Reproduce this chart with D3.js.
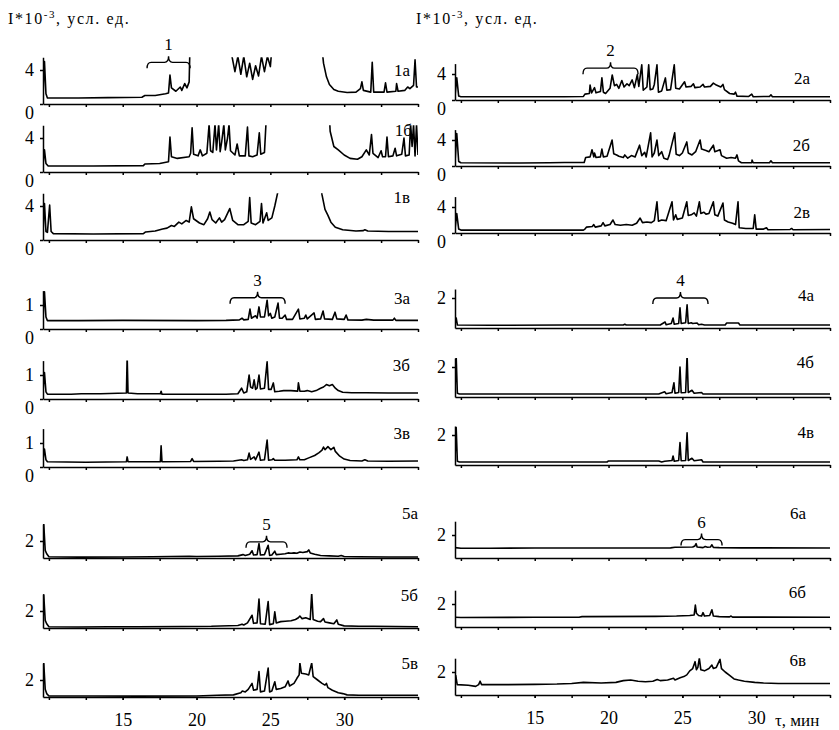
<!DOCTYPE html>
<html>
<head>
<meta charset="utf-8">
<script src="https://cdnjs.cloudflare.com/ajax/libs/d3/7.8.5/d3.min.js"></script>
<style>
  body { margin: 0; background: #fff; }
  text { font-family: "Liberation Serif", "Times New Roman", "DejaVu Serif", serif; fill: #000; }
  .trace { fill: none; stroke: #000; stroke-width: 1.6; stroke-linejoin: round; }
  .axis path, .axis line { stroke: #000; stroke-width: 1.5; }
  .axis text { font-size: 18px; }
  .lab { font-size: 17px; }
  .brace { fill: none; stroke: #000; stroke-width: 1.4; }
</style>
</head>
<body>
<script>
// time axis, minutes
var tDomain = [9.6, 35];
var xTicks = [15, 20, 25, 30];

// chromatograms: [time, I*10^-3]
var tr1a = [[9.6,0.9],[9.7,5.0],[9.8,1.2],[9.9,0.7],[12,0.7],[14,0.75],[16.3,0.8],[16.5,1.0],[17.2,1.0],[17.9,1.2],[18.1,1.3],[18.2,3.4],[18.3,1.9],[18.6,1.5],[18.9,2.0],[19.0,1.6],[19.2,2.4],[19.35,1.9],[19.5,2.6],[19.55,6.5],[22.3,6.5],
  [22.4,5.6],[22.6,3.8],[22.8,5.6],[23.0,3.5],[23.2,5.6],[23.4,3.2],[23.6,4.8],[23.8,2.9],[24.0,4.5],[24.2,3.3],[24.4,5.6],[24.6,3.8],[24.8,5.6],[25.0,4.4],[25.1,6.5],[28.5,6.5],
  [28.6,4.8],[28.8,3.2],[29.0,2.3],[29.3,1.7],[29.6,1.5],[30.2,1.35],[30.8,1.4],[31.1,1.8],[31.2,2.6],[31.3,1.6],[31.8,1.4],[31.9,4.9],[32.0,1.4],[32.7,1.4],[32.8,2.5],[32.9,1.4],[33.5,1.5],[33.55,2.4],[33.65,1.5],[34.1,1.6],[34.3,2.0],[34.45,1.8],[34.7,2.2],[34.8,5.2],[34.9,2.0],[35,2.0]];
var tr1b = [[9.6,0.8],[9.7,2.6],[9.8,1.0],[9.95,0.7],[13,0.7],[16.4,0.75],[16.5,0.95],[17.5,1.0],[18.1,1.2],[18.2,4.1],[18.3,1.8],[18.7,1.6],[19.5,1.8],[19.6,2.2],[19.7,5.2],[19.8,2.1],[20.1,1.9],[20.25,2.6],[20.4,1.9],[20.7,2.2],[20.85,5.6],[20.95,2.5],[21.1,2.3],[21.25,5.6],[21.35,2.6],[21.5,5.6],[21.6,2.4],[21.7,3.5],[21.85,5.6],[21.95,2.6],[22.1,4.0],[22.2,5.6],[22.3,2.5],[22.6,2.0],[22.75,3.3],[22.9,1.9],[23.3,1.9],[23.45,5.3],[23.55,1.9],[23.8,1.8],[24.1,2.0],[24.25,4.6],[24.35,2.1],[24.6,2.3],[24.7,5.6],[24.8,6.5],[29.0,6.5],
  [29.05,4.8],[29.3,3.0],[29.6,2.6],[30.0,2.0],[30.4,1.6],[30.9,1.5],[31.2,1.8],[31.5,2.6],[31.7,2.0],[31.85,4.4],[31.95,2.2],[32.3,1.7],[32.5,2.5],[32.6,1.8],[32.8,1.8],[32.9,4.1],[33.0,1.8],[33.3,1.9],[33.45,2.8],[33.55,1.9],[33.9,2.1],[34.05,4.0],[34.15,1.9],[34.4,2.0],[34.5,5.6],[34.6,3.0],[34.7,5.6],[34.8,1.9],[34.9,5.6],[35,2.0]];
var tr1v = [[9.6,0.9],[9.7,4.3],[9.8,1.0],[9.9,0.9],[10.05,4.1],[10.15,1.0],[10.3,0.75],[13,0.7],[16.4,0.75],[16.55,0.95],[17.2,1.05],[17.7,1.3],[18.0,1.4],[18.3,1.7],[18.5,1.6],[18.8,2.1],[19.0,1.9],[19.3,2.3],[19.5,2.1],[19.65,3.9],[19.8,2.5],[20.2,2.0],[20.5,1.8],[20.75,2.5],[20.9,3.3],[21.05,2.4],[21.3,2.0],[21.55,2.6],[21.7,2.1],[21.9,2.4],[22.25,3.7],[22.45,2.3],[22.8,1.8],[23.2,1.8],[23.5,2.2],[23.6,5.0],[23.7,2.0],[24.0,1.8],[24.3,2.2],[24.4,4.3],[24.5,2.0],[24.75,3.2],[24.85,2.3],[25.1,2.6],[25.3,4.0],[25.5,5.6],[25.6,6.5],[28.4,6.5],
  [28.5,5.3],[28.7,3.6],[28.9,2.9],[29.1,2.1],[29.4,1.5],[29.9,1.2],[30.8,1.05],[31.3,1.1],[31.4,1.2],[31.6,1.05],[33,1.0],[35,1.0]];

var tr2a = [[9.6,0.6],[9.72,3.4],[9.85,0.6],[10,0.5],[14,0.5],[17,0.5],[18.3,0.55],[18.4,0.9],[18.7,1.0],[18.75,2.3],[18.85,1.1],[19.05,1.9],[19.15,1.1],[19.45,1.3],[19.55,3.4],[19.65,1.2],[19.8,1.0],[20.1,1.8],[20.25,3.85],[20.4,2.2],[20.55,2.4],[20.7,1.8],[20.9,3.0],[21.05,2.0],[21.25,2.5],[21.4,2.2],[21.6,3.1],[21.75,1.9],[21.95,3.9],[22.05,2.1],[22.25,5.4],[22.35,1.5],[22.6,2.0],[22.72,5.4],[22.82,1.6],[23.0,1.7],[23.1,2.4],[23.28,5.4],[23.38,1.2],[23.6,1.4],[23.85,3.4],[23.95,1.5],[24.2,1.6],[24.45,5.4],[24.55,1.8],[24.8,1.7],[25.15,2.8],[25.25,2.0],[25.6,2.1],[25.75,2.5],[25.85,1.9],[26.2,2.0],[26.4,2.4],[26.5,2.0],[26.9,2.1],[27.1,2.6],[27.3,2.3],[27.6,2.0],[27.75,2.4],[27.85,1.6],[28.2,1.0],[28.5,0.9],[28.6,1.2],[28.7,0.6],[29.5,0.55],[29.7,0.9],[29.8,0.5],[30.9,0.55],[31.0,0.8],[31.1,0.5],[35,0.5]];
var tr2b = [[9.6,0.6],[9.72,5.0],[9.85,0.7],[10,0.5],[14,0.45],[16,0.5],[17,0.55],[18.35,0.55],[18.45,1.3],[18.75,1.4],[18.88,2.5],[19.0,1.4],[19.05,2.0],[19.15,1.3],[19.45,1.4],[19.55,2.6],[19.65,1.4],[19.9,1.5],[20.24,4.0],[20.35,1.9],[20.55,1.7],[20.7,1.5],[21.0,1.3],[21.1,1.7],[21.3,1.2],[21.55,1.6],[21.8,1.4],[22.1,3.2],[22.25,1.6],[22.45,2.1],[22.55,1.4],[22.85,5.1],[22.95,1.4],[23.1,2.0],[23.28,4.0],[23.4,1.6],[23.6,2.2],[23.75,1.2],[24.0,1.0],[24.1,1.6],[24.48,5.1],[24.58,1.8],[24.8,1.6],[25.0,2.0],[25.3,3.7],[25.4,2.0],[25.65,1.7],[25.9,2.2],[26.2,4.0],[26.3,2.6],[26.6,2.4],[26.8,2.2],[27.1,3.2],[27.2,2.2],[27.55,2.5],[27.65,1.6],[28.0,1.2],[28.3,1.3],[28.6,1.2],[28.7,1.7],[28.8,0.8],[29.0,0.5],[29.7,0.5],[29.72,0.9],[29.8,0.5],[30.9,0.5],[31.0,0.8],[31.1,0.5],[35,0.5]];
var tr2v = [[9.6,0.6],[9.72,3.0],[9.85,0.6],[10,0.45],[14,0.45],[18.3,0.45],[18.4,0.6],[18.5,0.9],[18.9,1.0],[19.0,1.3],[19.1,0.9],[19.5,1.1],[19.63,1.6],[19.75,1.1],[20.1,1.3],[20.3,2.0],[20.45,1.3],[20.8,1.2],[21.2,1.3],[21.6,1.2],[21.9,1.5],[22.14,2.3],[22.3,1.6],[22.6,1.7],[22.9,1.6],[23.1,1.9],[23.28,4.8],[23.38,1.8],[23.6,2.0],[23.9,1.9],[24.3,4.8],[24.4,2.0],[24.55,2.8],[24.65,2.1],[25.0,2.3],[25.3,4.8],[25.4,2.7],[25.6,2.8],[25.8,3.1],[25.95,2.6],[26.15,4.8],[26.25,3.0],[26.45,3.2],[26.6,2.9],[26.8,3.0],[27.1,4.8],[27.2,2.8],[27.4,2.6],[27.75,4.6],[27.85,2.0],[28.1,1.7],[28.4,1.5],[28.6,1.3],[28.77,4.8],[28.85,0.8],[29.3,0.7],[29.8,0.7],[29.9,2.8],[30.0,0.6],[30.5,0.6],[30.7,0.8],[30.8,0.5],[32.3,0.55],[32.4,0.7],[32.5,0.5],[35,0.55]];

var tr3a = [[9.6,0.4],[9.7,1.55],[9.8,0.5],[9.9,0.35],[12,0.35],[15,0.36],[20,0.35],[22.0,0.36],[22.9,0.38],[23.08,0.45],[23.2,0.38],[23.5,0.4],[23.62,0.83],[23.72,0.45],[23.85,0.5],[24.0,0.55],[24.1,0.45],[24.23,0.92],[24.33,0.5],[24.6,0.5],[24.78,1.2],[24.88,0.55],[25.0,0.65],[25.1,0.45],[25.3,0.5],[25.52,1.08],[25.62,0.45],[25.8,0.45],[26.0,0.58],[26.1,0.4],[26.5,0.4],[26.9,0.83],[27.0,0.42],[27.3,0.45],[27.4,0.58],[27.5,0.42],[27.96,0.67],[28.05,0.4],[28.4,0.42],[28.57,0.75],[28.67,0.42],[29.2,0.4],[29.38,0.7],[29.5,0.42],[30.0,0.4],[30.13,0.58],[30.25,0.38],[31.2,0.37],[31.5,0.4],[32.0,0.37],[33.3,0.37],[33.4,0.45],[33.5,0.36],[35,0.36]];
var tr3b = [[9.6,0.3],[9.7,1.1],[9.8,0.3],[9.9,0.2],[11.5,0.2],[12.2,0.22],[13.5,0.22],[15.25,0.25],[15.3,1.8],[15.36,0.25],[16.0,0.22],[17.55,0.22],[17.6,0.32],[17.66,0.2],[19.0,0.2],[22.0,0.2],[22.8,0.22],[23.05,0.45],[23.2,0.25],[23.4,0.3],[23.56,1.0],[23.66,0.5],[23.8,0.45],[23.9,0.8],[24.0,0.4],[24.1,0.45],[24.23,1.0],[24.33,0.42],[24.6,0.45],[24.78,1.55],[24.88,0.4],[25.05,0.4],[25.2,0.67],[25.3,0.3],[25.6,0.32],[25.9,0.35],[26.4,0.35],[26.85,0.33],[26.9,0.67],[27.0,0.33],[27.3,0.32],[27.5,0.35],[27.8,0.3],[28.1,0.35],[28.4,0.45],[28.6,0.5],[28.8,0.6],[29.0,0.55],[29.2,0.6],[29.4,0.45],[29.6,0.35],[29.9,0.28],[30.5,0.26],[31.5,0.26],[33,0.25],[35,0.25]];
var tr3v = [[9.6,0.3],[9.7,0.75],[9.8,0.3],[9.9,0.22],[12.5,0.2],[15.25,0.22],[15.3,0.42],[15.36,0.22],[17.55,0.22],[17.6,0.88],[17.66,0.22],[19.6,0.23],[19.7,0.35],[19.8,0.23],[21.5,0.24],[22.5,0.25],[23.05,0.3],[23.2,0.27],[23.45,0.3],[23.56,0.58],[23.66,0.32],[23.9,0.42],[24.0,0.3],[24.23,0.62],[24.33,0.28],[24.6,0.3],[24.78,1.12],[24.88,0.28],[25.1,0.3],[25.2,0.35],[25.3,0.28],[26.0,0.28],[26.8,0.3],[26.9,0.42],[27.0,0.3],[27.3,0.3],[27.6,0.38],[28.0,0.48],[28.3,0.6],[28.5,0.7],[28.6,0.83],[28.7,0.72],[28.9,0.85],[29.1,0.72],[29.3,0.82],[29.4,0.65],[29.7,0.45],[30.0,0.33],[30.4,0.27],[31.2,0.25],[31.4,0.3],[31.6,0.25],[33,0.24],[35,0.25]];

var tr4a = [[9.6,0.25],[9.68,0.67],[9.76,0.2],[12,0.18],[17,0.2],[21.0,0.2],[21.1,0.25],[21.2,0.2],[23.5,0.2],[23.83,0.4],[23.9,0.22],[24.25,0.3],[24.37,0.67],[24.45,0.25],[24.75,0.3],[24.84,1.35],[24.92,0.3],[25.22,0.35],[25.32,1.55],[25.4,0.3],[25.6,0.35],[25.7,0.3],[26.0,0.33],[26.1,0.22],[26.3,0.25],[26.5,0.2],[27.9,0.2],[28.0,0.33],[28.8,0.33],[28.9,0.2],[35,0.2]];
var tr4b = [[9.6,0.3],[9.68,2.7],[9.76,0.25],[9.9,0.2],[12,0.2],[17,0.2],[23.4,0.2],[23.8,0.35],[23.9,0.22],[24.3,0.3],[24.43,0.95],[24.5,0.25],[24.75,0.3],[24.84,2.0],[24.92,0.28],[25.22,0.3],[25.32,2.8],[25.4,0.3],[25.65,0.45],[25.8,0.25],[26.3,0.3],[26.4,0.2],[35,0.2]];
var tr4v = [[9.6,0.3],[9.68,2.5],[9.76,0.25],[9.9,0.2],[12,0.2],[19.9,0.2],[20.0,0.27],[23.4,0.27],[23.6,0.2],[23.8,0.25],[24.3,0.3],[24.37,0.6],[24.45,0.25],[24.75,0.3],[24.84,1.5],[24.92,0.28],[25.22,0.3],[25.32,2.15],[25.4,0.3],[25.65,0.45],[25.8,0.28],[26.3,0.35],[26.4,0.2],[35,0.2]];

var tr5a = [[9.6,0.3],[9.65,4.0],[9.75,0.9],[9.85,0.5],[10.0,0.15],[12,0.1],[15,0.12],[17,0.15],[19.5,0.2],[20.0,0.18],[21.5,0.2],[22.8,0.25],[23.15,0.4],[23.3,0.3],[23.6,0.45],[23.76,0.85],[23.86,0.35],[24.1,0.4],[24.23,1.7],[24.33,0.35],[24.6,0.4],[24.85,1.5],[24.95,0.3],[25.1,0.35],[25.3,0.8],[25.4,0.4],[25.7,0.45],[26.0,0.5],[26.2,0.6],[26.4,0.55],[26.6,0.6],[26.8,0.55],[27.0,0.7],[27.2,0.65],[27.5,0.75],[27.6,0.95],[27.7,0.6],[28.0,0.45],[28.4,0.3],[29.0,0.25],[29.6,0.2],[29.8,0.3],[30.0,0.18],[31,0.15],[33,0.12],[35,0.12]];
var tr5b = [[9.6,0.3],[9.65,3.9],[9.75,0.9],[9.85,0.5],[10.0,0.15],[12,0.12],[14,0.15],[16,0.15],[19,0.18],[21,0.2],[22.8,0.3],[23.08,0.45],[23.2,0.35],[23.45,0.6],[23.76,1.5],[23.86,0.55],[24.1,0.6],[24.23,3.4],[24.33,0.5],[24.65,0.45],[24.85,3.1],[24.95,0.4],[25.2,0.5],[25.3,1.9],[25.4,0.6],[25.7,0.75],[26.0,0.8],[26.4,0.85],[26.7,1.0],[26.9,1.2],[27.0,1.4],[27.15,1.1],[27.4,1.2],[27.7,1.0],[27.8,4.1],[27.9,1.0],[28.2,0.8],[28.4,0.75],[28.6,1.1],[28.7,0.7],[29.0,0.6],[29.3,0.5],[29.5,0.95],[29.6,0.45],[30.0,0.25],[31.0,0.2],[32.0,0.2],[35,0.15]];
var tr5v = [[9.6,0.3],[9.65,4.0],[9.75,0.9],[9.85,0.4],[10.0,0.12],[13,0.12],[16,0.1],[20,0.12],[21.4,0.2],[22.5,0.25],[23.0,0.5],[23.1,0.7],[23.3,0.6],[23.5,0.9],[23.76,1.6],[23.86,0.8],[24.1,0.9],[24.23,3.0],[24.33,0.6],[24.6,0.7],[24.85,3.4],[24.95,0.6],[25.1,0.7],[25.3,1.8],[25.4,0.9],[25.7,1.0],[26.0,1.2],[26.2,1.9],[26.3,1.3],[26.6,1.6],[26.8,2.2],[26.95,2.6],[27.0,4.0],[27.1,2.8],[27.4,2.7],[27.6,2.6],[27.8,4.0],[27.9,2.4],[28.2,2.0],[28.5,1.6],[28.7,1.4],[28.8,1.6],[28.9,1.1],[29.2,0.8],[29.6,0.5],[29.9,0.4],[30.2,0.25],[31.0,0.2],[35,0.2]];

var tr6a = [[9.6,0.9],[10,0.85],[12,0.85],[15,0.87],[20,0.87],[24.2,0.88],[24.5,0.93],[25.7,0.95],[25.85,1.05],[25.93,1.25],[26.0,0.95],[26.4,0.9],[26.55,1.0],[26.7,0.93],[26.9,0.95],[27.0,1.15],[27.1,0.92],[27.5,0.9],[29,0.88],[35,0.87]];
var tr6b = [[9.6,0.85],[10,0.82],[15,0.85],[18,0.85],[18.2,0.9],[23.2,0.92],[24.6,0.95],[25.5,1.0],[25.8,1.05],[25.88,1.9],[25.95,1.2],[26.1,1.0],[26.3,0.95],[26.4,1.25],[26.5,0.95],[26.85,1.0],[27.0,1.5],[27.1,0.95],[27.5,0.9],[28.2,0.88],[28.3,0.95],[28.4,0.86],[35,0.85]];
var tr6v = [[9.6,0.9],[9.65,1.7],[9.75,0.9],[10.5,0.85],[11.0,0.75],[11.2,0.9],[11.3,1.2],[11.4,0.9],[13,0.9],[15,0.92],[16.5,0.95],[17.5,1.0],[18.3,1.1],[19.5,1.05],[20.5,1.1],[21.0,1.25],[21.5,1.3],[22.0,1.2],[22.5,1.15],[23.0,1.2],[23.3,1.35],[23.5,1.25],[24.0,1.3],[24.4,1.45],[24.5,1.3],[24.85,1.5],[25.1,1.6],[25.3,1.75],[25.5,2.1],[25.7,2.3],[25.86,2.9],[25.95,2.2],[26.05,2.4],[26.15,3.2],[26.25,2.2],[26.5,2.1],[26.8,2.3],[27.0,2.6],[27.1,2.3],[27.3,2.4],[27.55,3.1],[27.65,2.3],[27.9,2.0],[28.2,1.7],[28.5,1.4],[28.8,1.3],[29.2,1.2],[29.9,1.1],[30.5,1.05],[31.5,1.0],[33,1.0],[35,1.0]];

// fraction brackets: names, time spans, level on the first trace of the group
var fractionNames = ["1", "2", "3", "4", "5", "6"];
var fractionSpans = [[16.65, 19.56], [18.27, 22.0], [22.27, 26.0], [23.0, 26.74], [23.35, 26.13], [24.91, 27.69]];
var fractionLevels = [4.9, 4.9, 1.3, 2.0, 1.9, 1.6];

// ---------- layout ----------
var W = 839, H = 730;
var colRange = [[43, 418], [455, 830]];
// per-fraction group: ymax, px per unit, y tick values
var groups = {
  "1": { ymax: 5.5, ppu: 8.5, ticks: [0, 4] },
  "2": { ymax: 5.6, ppu: 6.5, ticks: [0, 4] },
  "3": { ymax: 1.6, ppu: 24, ticks: [0, 1] },
  "4": { ymax: 2.6, ppu: 15, ticks: [2] },
  "5": { ymax: 4.0, ppu: 8.5, ticks: [2] },
  "6": { ymax: 3.2, ppu: 11.5, ticks: [2] }
};

var panels = [
  { name: "1а", data: tr1a, col: 0, y0: 104, lx: 410, ly: -28 },
  { name: "1б", data: tr1b, col: 0, y0: 172, lx: 412, ly: -36 },
  { name: "1в", data: tr1v, col: 0, y0: 240, lx: 410, ly: -37 },
  { name: "2а", data: tr2a, col: 1, y0: 100, lx: 810, ly: -16 },
  { name: "2б", data: tr2b, col: 1, y0: 166, lx: 810, ly: -15 },
  { name: "2в", data: tr2v, col: 1, y0: 233, lx: 810, ly: -15 },
  { name: "3а", data: tr3a, col: 0, y0: 329, lx: 410, ly: -25 },
  { name: "3б", data: tr3b, col: 0, y0: 399, lx: 410, ly: -28 },
  { name: "3в", data: tr3v, col: 0, y0: 467, lx: 410, ly: -28 },
  { name: "4а", data: tr4a, col: 1, y0: 328, lx: 814, ly: -27 },
  { name: "4б", data: tr4b, col: 1, y0: 397, lx: 814, ly: -29 },
  { name: "4в", data: tr4v, col: 1, y0: 465, lx: 814, ly: -27 },
  { name: "5а", data: tr5a, col: 0, y0: 558, lx: 418, ly: -39 },
  { name: "5б", data: tr5b, col: 0, y0: 628, lx: 418, ly: -27 },
  { name: "5в", data: tr5v, col: 0, y0: 697, lx: 418, ly: -28 },
  { name: "6а", data: tr6a, col: 1, y0: 558, lx: 806, ly: -39 },
  { name: "6б", data: tr6b, col: 1, y0: 627, lx: 806, ly: -29 },
  { name: "6в", data: tr6v, col: 1, y0: 695, lx: 806, ly: -29 }
];

var svg = d3.select("body").append("svg")
    .attr("width", W)
    .attr("height", H);

var xScales = colRange.map(function(r) {
  return d3.scaleLinear().domain(tDomain).range(r);
});

var minorTicks = d3.range(10, 35.1, 2.5);

panels.forEach(function(p, i) {
  var grp = groups[p.name[0]];
  var x = xScales[p.col];
  var y = d3.scaleLinear()
      .domain([0, grp.ymax])
      .range([p.y0, p.y0 - grp.ymax * grp.ppu]);
  p.y = y;

  var isBottom = (p.name[0] === "5" || p.name[0] === "6") && p.name[1] === "в";

  // x axis
  svg.append("g")
      .attr("class", "axis")
      .attr("transform", "translate(0," + p.y0 + ")")
      .call(d3.axisBottom(x).tickValues(minorTicks).tickSize(3).tickSizeOuter(0).tickFormat(""));
  if (isBottom) {
    svg.append("g")
        .attr("class", "axis")
        .attr("transform", "translate(0," + p.y0 + ")")
        .call(d3.axisBottom(x).tickValues(xTicks).tickSize(3).tickPadding(13).tickSizeOuter(0).tickFormat(d3.format("d")))
        .attr("font-family", null)
        .select(".domain").remove();
  }

  // y axis
  var ya = svg.append("g")
      .attr("class", "axis")
      .attr("transform", "translate(" + x.range()[0] + ",0)")
      .call(d3.axisLeft(y).tickValues(grp.ticks).tickSize(3).tickPadding(6).tickSizeOuter(0).tickFormat(d3.format("d")))
      .attr("font-family", null);
  ya.selectAll(".tick text").attr("dy", function(d) { return d === 0 ? "0.8em" : "0.32em"; });

  // clip so off-scale parts are cut at the panel top
  var clipId = "clip" + i;
  svg.append("clipPath").attr("id", clipId)
    .append("rect")
      .attr("x", x.range()[0])
      .attr("y", y(grp.ymax))
      .attr("width", x.range()[1] - x.range()[0])
      .attr("height", p.y0 - y(grp.ymax));

  var line = d3.line()
      .x(function(d) { return x(d[0]); })
      .y(function(d) { return y(d[1]); });

  svg.append("path")
      .attr("class", "trace")
      .attr("clip-path", "url(#" + clipId + ")")
      .attr("d", line(p.data));

  // panel label
  svg.append("text")
      .attr("class", "lab")
      .attr("x", p.lx)
      .attr("y", p.y0 + p.ly)
      .attr("text-anchor", "end")
      .text(p.name);
});

// fraction brackets over the first trace of each group
fractionNames.forEach(function(f, i) {
  var p = panels[i * 3];
  var x = xScales[p.col];
  var x1 = x(fractionSpans[i][0]), x2 = x(fractionSpans[i][1]);
  var xm = (x1 + x2) / 2;
  var yb = p.y(fractionLevels[i]);
  svg.append("path")
      .attr("class", "brace")
      .attr("d", "M" + x1 + "," + (yb + 6) +
        "Q" + x1 + "," + yb + " " + (x1 + 4) + "," + yb +
        "L" + (xm - 4) + "," + yb +
        "Q" + xm + "," + yb + " " + xm + "," + (yb - 6) +
        "Q" + xm + "," + yb + " " + (xm + 4) + "," + yb +
        "L" + (x2 - 4) + "," + yb +
        "Q" + x2 + "," + yb + " " + x2 + "," + (yb + 6));
  svg.append("text")
      .attr("class", "lab")
      .attr("x", xm)
      .attr("y", yb - 12)
      .attr("text-anchor", "middle")
      .text(f);
});

// y titles
[8, 416].forEach(function(tx) {
  var t = svg.append("text")
      .attr("x", tx)
      .attr("y", 24)
      .attr("font-size", "16px")
      .attr("letter-spacing", "1.6px");
  t.append("tspan").text("I*10");
  t.append("tspan").attr("font-size", "11px").attr("dy", "-6").text("-3");
  t.append("tspan").attr("dy", "6").text(", усл. ед.");
});

// time unit
svg.append("text")
    .attr("class", "lab")
    .attr("x", 775)
    .attr("y", 726)
    .text("τ, мин");
</script>
</body>
</html>
